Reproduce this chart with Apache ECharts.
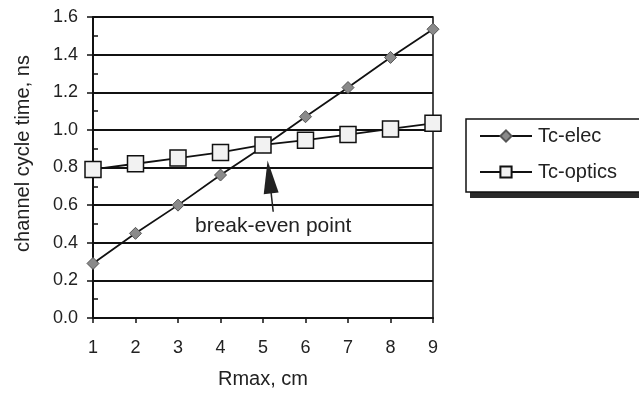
<!DOCTYPE html>
<html>
<head>
<meta charset="utf-8">
<script src="https://cdn.jsdelivr.net/npm/echarts@6/dist/echarts.min.js"></script>
<style>
html,body{margin:0;padding:0;background:#fff;}
#main{width:639px;height:394px;}
</style>
</head>
<body>
<div id="main"></div>
<script>
var rmax = [1, 2, 3, 4, 5, 6, 7, 8, 9];
var tcElec = [0.29, 0.45, 0.60, 0.76, 0.91, 1.07, 1.225, 1.385, 1.535];
var tcOptics = [0.79, 0.82, 0.85, 0.88, 0.92, 0.945, 0.975, 1.005, 1.035];

function pairs(xs, ys){
  var out = [];
  for (var i = 0; i < xs.length; i++) out.push([xs[i], ys[i]]);
  return out;
}

var myChart = echarts.init(document.getElementById('main'));
var font = 'Liberation Sans, Arial, sans-serif';

var option = {
  backgroundColor: '#fff',
  textStyle: {fontFamily: font},
  grid: {
    left: 93, right: 206, top: 17, bottom: 74,
    show: true, borderColor: '#111', borderWidth: 1.5
  },
  // drop shadow under the legend box
  graphic: [{
    type: 'rect', left: 470, top: 126, z: 0,
    shape: {width: 180, height: 72},
    style: {fill: '#2a2a2a'}
  }],
  legend: {
    left: 466, top: 119, z: 5,
    orient: 'vertical',
    data: ['Tc-elec', 'Tc-optics'],
    itemWidth: 52, itemHeight: 14, itemGap: 16,
    padding: [7, 30, 10, 13],
    backgroundColor: '#fff',
    borderColor: '#111', borderWidth: 1.5, borderRadius: 0,
    textStyle: {fontSize: 20, color: '#222', fontFamily: font, padding: [0, 0, 0, 1]}
  },
  xAxis: {
    type: 'value',
    min: 1, max: 9, interval: 1,
    name: 'Rmax, cm',
    nameLocation: 'middle', nameGap: 51,
    nameTextStyle: {fontSize: 20, color: '#222'},
    axisLine: {lineStyle: {color: '#111', width: 2}},
    axisTick: {show: true, inside: false, length: 5, lineStyle: {color: '#111', width: 1.5}},
    axisLabel: {fontSize: 18, color: '#222', margin: 21},
    splitLine: {show: false}
  },
  yAxis: [
    {
      type: 'value',
      min: 0, max: 1.6, interval: 0.2,
      name: 'channel cycle time, ns',
      nameLocation: 'middle', nameGap: 60,
      nameTextStyle: {fontSize: 20, color: '#222', padding: [0, 0, 0, 28]},
      axisLine: {show: true, lineStyle: {color: '#111', width: 2}},
      axisTick: {show: true, inside: false, length: 6, lineStyle: {color: '#111', width: 1.5}},
      axisLabel: {fontSize: 18, color: '#222', margin: 15, formatter: function(v){ return v.toFixed(1); }},
      splitLine: {show: true, lineStyle: {color: '#111', width: 2}}
    },
    {
      // inward minor ticks every 0.1
      type: 'value',
      position: 'left',
      min: 0, max: 1.6, interval: 0.1,
      axisLine: {show: false},
      axisTick: {show: true, inside: true, length: 5, lineStyle: {color: '#111', width: 1.5}},
      axisLabel: {show: false},
      splitLine: {show: false}
    }
  ],
  series: [
    {
      name: 'Tc-elec',
      type: 'line',
      data: pairs(rmax, tcElec),
      symbol: 'diamond',
      symbolSize: 12,
      lineStyle: {color: '#111', width: 1.8},
      itemStyle: {color: '#8a8a8a', borderColor: '#555', borderWidth: 1},
      z: 3,
      markLine: {
        silent: true,
        symbol: ['none', 'triangle'],
        symbolSize: [15, 33],
        lineStyle: {color: '#222', width: 1.5, type: 'solid'},
        itemStyle: {color: '#333'},
        label: {show: false},
        data: [[{coord: [5.24, 0.565]}, {coord: [5.15, 0.75]}]]
      },
      markPoint: {
        silent: true,
        symbol: 'circle', symbolSize: 1,
        itemStyle: {color: 'rgba(0,0,0,0)'},
        label: {
          show: true, position: 'inside',
          formatter: 'break-even point',
          fontSize: 21, color: '#222', fontFamily: font
        },
        data: [{coord: [5.24, 0.49]}]
      }
    },
    {
      name: 'Tc-optics',
      type: 'line',
      data: pairs(rmax, tcOptics),
      symbol: 'rect',
      symbolSize: 16,
      lineStyle: {color: '#111', width: 1.8},
      itemStyle: {color: '#f2f2f2', borderColor: '#111', borderWidth: 1.5},
      z: 4
    }
  ]
};

myChart.setOption(option);
</script>
</body>
</html>
